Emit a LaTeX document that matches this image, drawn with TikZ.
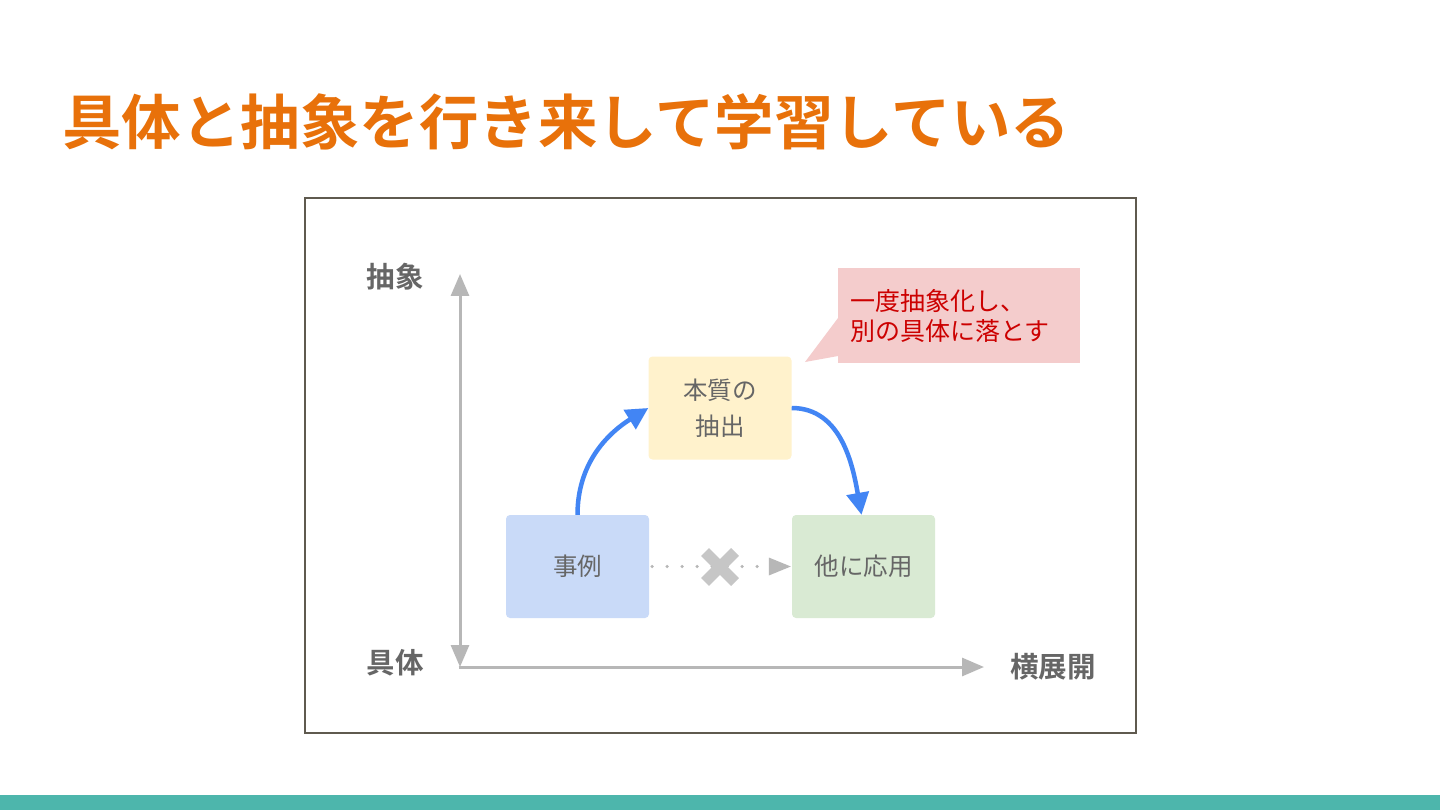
\documentclass[tikz,border=0pt]{standalone}
\usepackage{fontspec}
\newfontfamily\cjk{Noto Sans CJK JP}[BoldFont={* Bold}]
\usetikzlibrary{arrows.meta,calc}
\definecolor{titleor}{HTML}{E8710A}
\definecolor{teal}{HTML}{4DB6AC}
\definecolor{framec}{HTML}{5F5A4F}
\definecolor{axisg}{HTML}{B7B7B7}
\definecolor{txtg}{HTML}{666666}
\definecolor{yel}{HTML}{FFF2CC}
\definecolor{blu}{HTML}{C9DAF8}
\definecolor{grn}{HTML}{D9EAD3}
\definecolor{pnk}{HTML}{F4CCCC}
\definecolor{redt}{HTML}{CC0000}
\definecolor{arrb}{HTML}{4285F4}
\definecolor{xg}{HTML}{C6C6C6}
\tikzset{
  box/.style={rounded corners=4pt, minimum width=143pt, minimum height=103pt, inner sep=0pt, text=txtg, font=\cjk\fontsize{24.5}{36}\selectfont, align=center},
  axlab/.style={text=txtg, font=\cjk\bfseries\fontsize{28.5}{32}\selectfont, inner sep=0pt},
  axis/.style={draw=axisg, line width=3pt},
  flow/.style={draw=arrb, line width=4.5pt, -{Triangle[length=22pt,width=22pt]}},
}
\begin{document}
\begin{tikzpicture}[x=1pt,y=-1pt]
\useasboundingbox (0,0) rectangle (1440,810);
\fill[white] (0,0) rectangle (1440,810);
\fill[teal] (0,795) rectangle (1440,810);
% title
\node[anchor=west, text=titleor, font=\cjk\bfseries\fontsize{59.5}{70}\selectfont, inner sep=0pt] (title) at (62,122) {具体と抽象を行き来して学習している};
% frame
\draw[framec, line width=1.5pt] (305,198) rectangle (1136,733);
% axes
\coordinate (o) at (460,667);
\coordinate (ytop) at (460,274);
\coordinate (xend) at (984,667);
\coordinate (ybot) at (460,667);
\draw[axis, {Triangle[length=22pt,width=18pt]}-{Triangle[length=22pt,width=18pt]}] (ytop) -- (ybot);
\draw[axis, -{Triangle[length=22pt,width=18pt]}] ([xshift=-1.5pt]o) -- (xend);
\node[axlab] (abs) at (395,277) {抽象};
\node[axlab] (con) at (395,663) {具体};
\node[axlab] (yoko) at (1053,667) {横展開};
% boxes
\node[box, fill=yel] (hon) at (720,408) {本質の\\抽出};
\node[box, fill=blu] (ex) at (577.5,566.5) {事例};
\node[box, fill=grn] (ap) at (863.5,566.5) {他に応用};
% callout
\fill[pnk] (838,268) rectangle (1080,363);
\fill[pnk] (838,318) -- (805,362) -- (838,356) -- cycle;
\node[anchor=north west, text=redt, font=\cjk\fontsize{25}{30}\selectfont, align=left, inner sep=0pt] (call) at (850,289) {一度抽象化し、\\別の具体に落とす};
% flow arrows
\draw[flow] (ex.north) to[out=90, in=212] (hon.west);
\draw[flow] (hon.east) to[out=0, in=100] ([xshift=-2pt]ap.north);
% dotted arrow
\draw[axisg, line width=3.5pt, line cap=round, dash pattern=on 0pt off 15pt] ([xshift=3pt]ex.east) -- ([xshift=-18pt]ap.west);
\fill[axisg] ([xshift=-1pt]ap.west) -- ++(-22,-9) -- ++(0,18) -- cycle;
\coordinate (xc) at (720,567);
\draw[xg, line width=11pt] ($(xc)+(-15,-15)$) -- ($(xc)+(15,15)$);
\draw[xg, line width=11pt] ($(xc)+(-15,15)$) -- ($(xc)+(15,-15)$);
\end{tikzpicture}
\end{document}
